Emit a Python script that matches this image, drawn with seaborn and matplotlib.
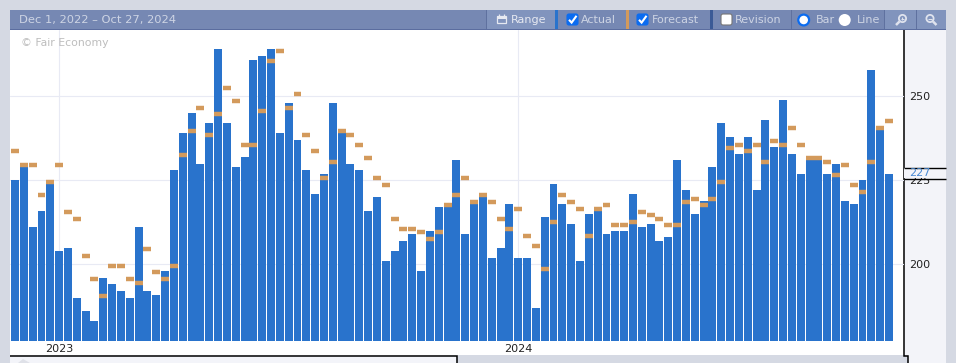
import numpy as np
import pandas as pd
import seaborn as sns
import matplotlib.pyplot as plt
from matplotlib.patches import Rectangle, Circle, FancyBboxPatch, Polygon

# weekly release dates (Dec 1 2022 - Oct 24 2024)
weeks = pd.date_range("2022-12-01", "2024-10-24", freq="7D").strftime("%Y-%m-%d").tolist()

actual = [225, 229, 211, 216, 224, 204, 205, 190, 186, 183,
          196, 194, 192, 190, 211, 192, 191, 198, 228, 239,
          245, 230, 242, 264, 242, 229, 232, 261, 262, 264,
          239, 248, 237, 228, 221, 227, 248, 239, 230, 228,
          216, 220, 201, 204, 207, 209, 198, 210, 217, 217,
          231, 209, 218, 220, 202, 205, 218, 202, 202, 187,
          214, 224, 218, 212, 201, 215, 216, 209, 210, 210,
          221, 211, 212, 207, 208, 231, 222, 215, 219, 229,
          242, 238, 233, 238, 222, 243, 235, 249, 233, 227,
          231, 231, 227, 230, 219, 218, 225, 258, 240, 227]

forecast = [233.7, 229.6, 229.6, 220.6, 224.6, 229.6, 215.6, 213.5, 202.5, 195.6,
            190.6, 199.5, 199.5, 195.6, 194.4, 204.6, 197.7, 195.6, 199.5, 232.5,
            239.7, 246.5, 238.5, 244.7, 252.5, 248.6, 235.5, 235.5, 245.6, 260.5,
            263.5, 246.5, 250.7, 238.5, 233.7, 225.7, 230.5, 239.7, 238.5, 235.5,
            231.6, 225.7, 223.6, 213.5, 210.5, 210.5, 209.6, 207.5, 209.6, 217.7,
            220.6, 225.7, 218.5, 220.6, 218.5, 213.5, 210.5, 216.5, 208.4, 205.5,
            198.6, 212.6, 220.6, 218.5, 216.5, 208.4, 216.5, 217.7, 211.7, 211.7,
            212.6, 215.6, 214.7, 213.5, 211.7, 211.7, 218.5, 219.4, 217.7, 219.4,
            224.5, 234.6, 235.5, 233.7, 235.5, 230.5, 236.6, 235.5, 240.6, 235.5,
            231.6, 231.6, 230.5, 226.6, 229.6, 223.6, 221.5, 230.5, 240.6, 242.7]

y_ticks = [200, 225, 250]
year_labels = ["2023", "2024"]
year_weeks = ["2023-01-05", "2024-01-04"]
last_value = "227"

W, H = 956, 363
BLUE = "#2973cc"
ORANGE = "#d39a5c"
PANEL = "#f3f4f9"
PAGE = "#d5d9e3"
HEAD = "#7688b3"
LIGHT = "#8194bd"
TXT = "#cdd4e4"

sns.set_theme(style="white")
plt.rcParams["font.family"] = ["DejaVu Sans"]

fig = plt.figure(figsize=(W / 100, H / 100), dpi=100, facecolor=PAGE)


def pixel_axes(z):
    a = fig.add_axes([0, 0, 1, 1], zorder=z)
    a.set_xlim(0, W)
    a.set_ylim(H, 0)
    a.axis("off")
    a.patch.set_alpha(0)
    return a


def box(a, x0, y0, x1, y1, c, **kw):
    a.add_patch(Rectangle((x0, y0), x1 - x0, y1 - y0, fc=c, ec="none", lw=0, **kw))


def line(a, xs, ys, c="black", lw=1.0):
    a.plot(xs, ys, color=c, lw=lw, solid_capstyle="butt", solid_joinstyle="miter")


# page pieces behind the chart
bg = pixel_axes(0)
box(bg, 10, 30, 904, 355, "white")
box(bg, 10, 355, 457, 363, PANEL)
box(bg, 904, 30, 946, 355, PANEL)
box(bg, 908, 355, 946, 363, PANEL)
bg.add_patch(Polygon([[18, 363], [23, 359], [30, 363]], fc="#dfe1e8", ec="none"))
line(bg, [10, 457, 457], [355.5, 355.5, 363], lw=1.1)
line(bg, [904.5, 904.5, 908.5, 908.5], [30, 355.5, 355.5, 363], lw=1.1)

# chart
ax = fig.add_axes([10 / W, 1 - 341 / H, 894 / W, 311 / H], zorder=1)
ax.patch.set_alpha(0)
df = pd.DataFrame({"week": weeks, "actual": actual, "forecast": forecast})
sns.barplot(data=df, x="week", y="actual", color=BLUE, saturation=1, width=0.9,
            errorbar=None, ax=ax, zorder=2, linewidth=0, edgecolor="none")
pos = np.arange(len(weeks))
ax.hlines(df["forecast"], pos - 0.45, pos + 0.45, color=ORANGE, lw=3.2, zorder=3)

ax.set_xlim(-0.566, 100.7)
ax.set_ylim(177.15, 269.8)
ax.set(xlabel=None, ylabel=None)
ax.set_xticks([weeks.index(d) for d in year_weeks], year_labels)
ax.set_yticks(y_ticks)
ax.tick_params(axis="both", length=0, labelsize=8, labelcolor="#222222")
ax.tick_params(axis="x", pad=2, bottom=False, top=False)
ax.tick_params(axis="y", pad=3.5, left=False, right=False, labelleft=False, labelright=True)
ax.grid(True, color="#e8eaf4", lw=0.8)
ax.set_axisbelow(True)
for s in ax.spines.values():
    s.set_visible(False)

# header bar and the last value flag on top
top = pixel_axes(3)
box(top, 10, 10, 946, 29, HEAD)
box(top, 10, 29, 946, 30, "#5b6d9f")
box(top, 487, 10, 555, 29, LIGHT)
box(top, 885, 10, 946, 29, LIGHT)
box(top, 555, 10, 558, 29, BLUE)
box(top, 626, 10, 629, 29, ORANGE)
box(top, 710, 10, 713, 29, "#3b5a96")
for sx in [486, 791, 884, 916]:
    box(top, sx, 10, sx + 1, 29, "#5f719f")

top.text(19, 20, "Dec 1, 2022 – Oct 27, 2024", color=TXT, fontsize=8.25, va="center")
top.text(21, 43.5, "© Fair Economy", color="#bdbdbd", fontsize=7.8, va="center")
top.text(511, 20, "Range", color="#e6e9f1", fontsize=8, va="center")
top.text(581, 20, "Actual", color=TXT, fontsize=8, va="center")
top.text(652, 20, "Forecast", color=TXT, fontsize=8, va="center")
top.text(735, 20, "Revision", color=TXT, fontsize=8, va="center")
top.text(816, 20, "Bar", color=TXT, fontsize=8, va="center")
top.text(857, 20, "Line", color=TXT, fontsize=8, va="center")

# range icon
top.add_patch(Rectangle((497, 16), 9.5, 7, fc="none", ec="#e6e9f1", lw=0.9))
box(top, 497, 16, 506.5, 18.5, "#e6e9f1")
line(top, [499.5, 499.5], [14, 16], "#e6e9f1", 0.9)
line(top, [504, 504], [14, 16], "#e6e9f1", 0.9)

# checkboxes
for cx in [566, 636]:
    top.add_patch(FancyBboxPatch((cx + 1, 14), 11, 11, boxstyle="round,pad=0,rounding_size=2",
                                 fc="#0b6cf0", ec="#0b6cf0", lw=0.8))
    line(top, [cx + 3, cx + 5.6, cx + 10.5], [19.8, 22.6, 15.8], "white", 1.5)
top.add_patch(FancyBboxPatch((721, 14), 11, 11, boxstyle="round,pad=0,rounding_size=2",
                             fc="white", ec="#767676", lw=0.8))

# radios
top.add_patch(Circle((803.7, 20), 5.4, fc="white", ec="#0b6cf0", lw=1.6))
top.add_patch(Circle((844.7, 20), 6, fc="white", ec="none"))

# zoom icons
top.add_patch(Circle((902.5, 18.5), 3.6, fc="none", ec="#dfe3ee", lw=1.3))
line(top, [899.5, 896], [21.5, 25], "#dfe3ee", 1.8)
line(top, [900.8, 904.2], [18.5, 18.5], "#dfe3ee", 0.8)
line(top, [902.5, 902.5], [16.8, 20.2], "#dfe3ee", 0.8)
top.add_patch(Circle((930, 18.5), 3.6, fc="none", ec="#dfe3ee", lw=1.3))
line(top, [933, 936.5], [21.5, 25], "#dfe3ee", 1.8)
line(top, [928.3, 931.7], [18.5, 18.5], "#dfe3ee", 0.8)

# flag over the tick label
box(top, 903.9, 167.5, 946, 178, PANEL)
line(top, [904, 946], [167.5, 167.5], lw=1.0)
line(top, [904, 946], [178.5, 178.5], lw=1.0)
top.text(909, 173, last_value, color="#4a8ad4", fontsize=8, va="center")

fig.savefig("out.png", dpi=100, facecolor=PAGE)
